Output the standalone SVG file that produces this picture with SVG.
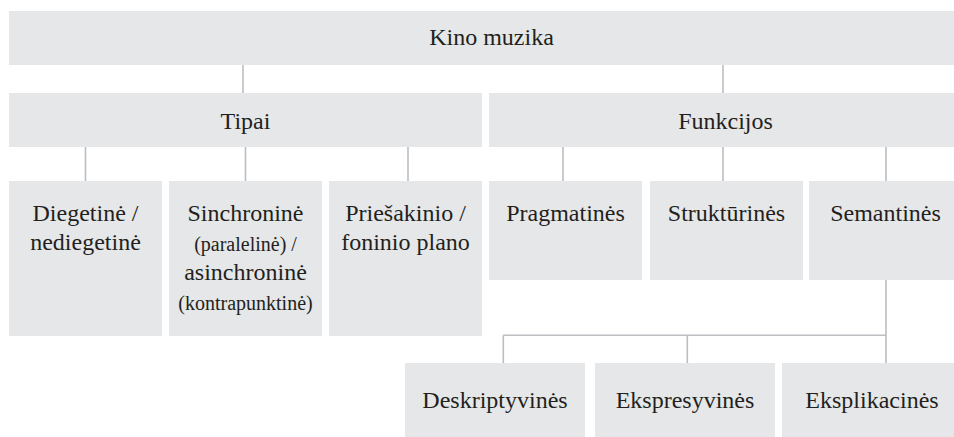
<svg xmlns="http://www.w3.org/2000/svg" width="954" height="437" viewBox="0 0 954 437">
<style>
.box{fill:#e6e7e8}
.t{font-family:'Liberation Serif','DejaVu Serif','Times New Roman',Times,serif;font-size:24px;fill:#231f20;text-anchor:middle}
.s{font-size:20px}
.c{stroke:#bdbec1;stroke-width:1.6;fill:none}
</style>
<rect width="954" height="437" fill="#ffffff"/>
<g id="connectors">
<path class="c" d="M243 65V93M723 65V93M85.5 147V181M245.5 147V181M408 147V181M563 147V181M723 147V181M886 147V181M886 280V363M503.3 335.3H886M503.3 335.3V363M687.3 335.3V363"/>
</g>
<g id="kino-muzika"><rect class="box" x="9" y="11" width="965" height="54"/><text class="t" x="491.5" y="45">Kino muzika</text></g>
<g id="tipai"><rect class="box" x="9" y="93" width="473" height="54"/><text class="t" x="245.5" y="129">Tipai</text></g>
<g id="funkcijos"><rect class="box" x="489" y="93" width="473" height="54"/><text class="t" x="725.5" y="129">Funkcijos</text></g>
<g id="diegetine"><rect class="box" x="9" y="181" width="153" height="155"/><text class="t" x="85.5" y="221">Diegetinė /</text><text class="t" x="85.5" y="250">nediegetinė</text></g>
<g id="sinchronine"><rect class="box" x="169" y="181" width="153" height="155"/><text class="t" x="245.5" y="221">Sinchroninė</text><text class="t s" x="245.5" y="251">(paralelinė) /</text><text class="t" x="245.5" y="280">asinchroninė</text><text class="t s" x="245.5" y="310">(kontrapunktinė)</text></g>
<g id="priesakinio"><rect class="box" x="329" y="181" width="153" height="155"/><text class="t" x="405.5" y="221">Priešakinio /</text><text class="t" x="405.5" y="250">foninio plano</text></g>
<g id="pragmatines"><rect class="box" x="489" y="181" width="153" height="99"/><text class="t" x="565.5" y="221">Pragmatinės</text></g>
<g id="strukturines"><rect class="box" x="650" y="181" width="153" height="99"/><text class="t" x="726.5" y="221">Struktūrinės</text></g>
<g id="semantines"><rect class="box" x="809" y="181" width="153" height="99"/><text class="t" x="885.5" y="221">Semantinės</text></g>
<g id="deskriptyvines"><rect class="box" x="405" y="363" width="180" height="80"/><text class="t" x="495" y="408">Deskriptyvinės</text></g>
<g id="ekspresyvines"><rect class="box" x="595" y="363" width="180" height="80"/><text class="t" x="685" y="408">Ekspresyvinės</text></g>
<g id="eksplikacines"><rect class="box" x="782" y="363" width="180" height="80"/><text class="t" x="872" y="408">Eksplikacinės</text></g>
</svg>
